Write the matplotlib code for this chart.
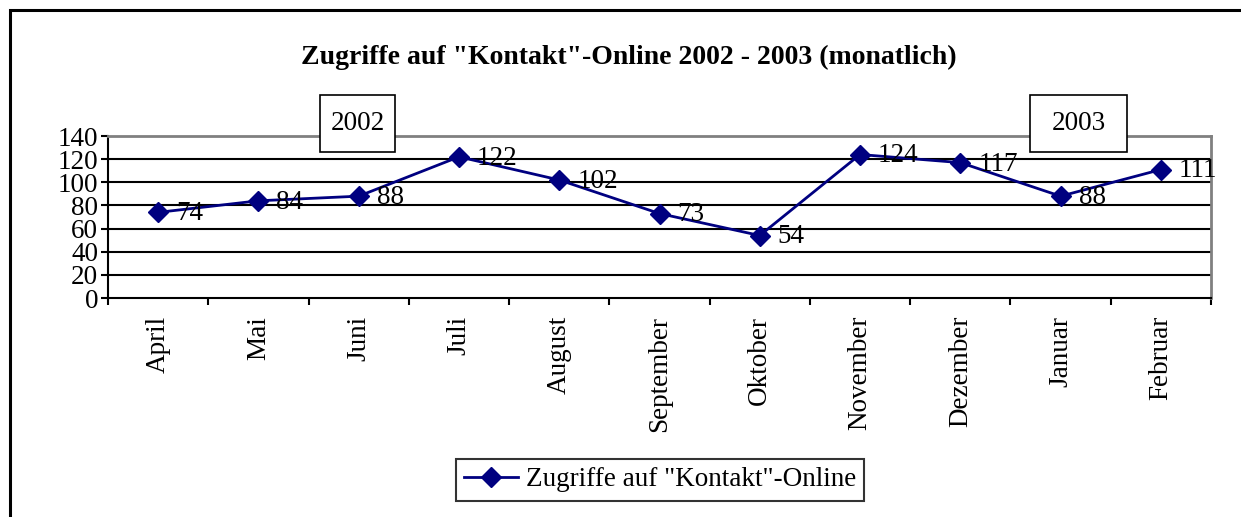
import matplotlib.pyplot as plt
from matplotlib.patches import Rectangle

months = ["April", "Mai", "Juni", "Juli", "August", "September", "Oktober",
          "November", "Dezember", "Januar", "Februar"]
zugriffe = [74, 84, 88, 122, 102, 73, 54, 124, 117, 88, 111]
y_ticks = [0, 20, 40, 60, 80, 100, 120, 140]
series_name = 'Zugriffe auf "Kontakt"-Online'
title = 'Zugriffe auf "Kontakt"-Online 2002 - 2003 (monatlich)'

plt.rcParams['font.family'] = ['Liberation Serif', 'DejaVu Serif']
FS = 19.5

W, H = 1241, 517
fig = plt.figure(figsize=(W / 100, H / 100), dpi=100)

# outer frame (only top and left visible)
fig.patches.append(Rectangle((10 / W, -0.1), 1.2, 1 - 10 / H + 0.1,
                             transform=fig.transFigure, fill=False,
                             edgecolor="black", linewidth=2.2))

ax = fig.add_axes([108 / W, 1 - 298 / H, (1211 - 108) / W, (298 - 136) / H])
x = list(range(len(months)))
ax.plot(x, zugriffe, color="#000080", linewidth=2, marker="D", markersize=10,
        label=series_name, zorder=3)

for xi, v in zip(x, zugriffe):
    ax.annotate(str(v), (xi, v), xytext=(13, -1), textcoords="offset points",
                ha="left", va="center", fontsize=FS, zorder=4)

ax.set_xlim(-0.5, len(months) - 0.5)
ax.set_ylim(0, 140)
ax.set_yticks(y_ticks)
ax.set_yticklabels([str(t) for t in y_ticks], fontsize=FS)
ax.tick_params(axis="y", direction="out", length=5, width=1.5, pad=2)

ax.set_xticks(x)
ax.set_xticklabels(months, rotation=90, fontsize=FS, va="top")
ax.tick_params(axis="x", which="major", length=0, pad=13)
ax.set_xticks([i - 0.5 for i in range(len(months) + 1)], minor=True)
ax.tick_params(axis="x", which="minor", direction="out", length=5, width=1.5)

for t in y_ticks[1:-1]:
    ax.axhline(t, color="black", linewidth=1.5, zorder=1)

ax.spines["left"].set_linewidth(1.5)
ax.spines["bottom"].set_linewidth(1.5)
ax.spines["top"].set_color("#808080")
ax.spines["right"].set_color("#808080")
ax.spines["top"].set_linewidth(2)
ax.spines["right"].set_linewidth(2)

fig.text(629 / W, 1 - 57 / H, title, ha="center", va="center",
         fontsize=20, fontweight="bold")

# year boxes
for label, x0, x1 in [("2002", 320, 395), ("2003", 1030, 1127)]:
    fig.patches.append(Rectangle((x0 / W, 1 - 152 / H), (x1 - x0) / W, 57 / H,
                                 transform=fig.transFigure, facecolor="white",
                                 edgecolor="black", linewidth=1.2, zorder=5))
    fig.text((x0 + x1) / 2 / W, 1 - 123 / H, label, ha="center", va="center",
             fontsize=FS, zorder=6)

leg = fig.legend(loc="center", bbox_to_anchor=(660 / W, 1 - 480 / H),
                 fontsize=FS, frameon=True, fancybox=False, edgecolor="black",
                 handlelength=2.0, handletextpad=0.3, borderpad=0.3,
                 borderaxespad=0)
leg.get_frame().set_linewidth(1.5)

fig.savefig("out.png", dpi=100)
